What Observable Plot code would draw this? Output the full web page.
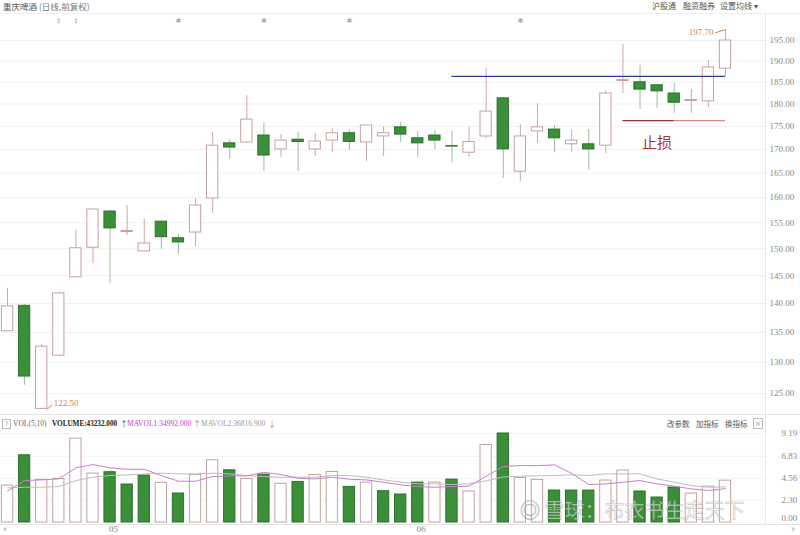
<!DOCTYPE html>
<html><head><meta charset="utf-8">
<script src="https://cdn.jsdelivr.net/npm/d3@7"></script>
<script src="https://cdn.jsdelivr.net/npm/@observablehq/plot@0.6"></script>
<style>
body{margin:0;background:#fff;}
#wrap{position:relative;width:800px;height:535px;overflow:hidden;font-family:"Noto Sans CJK SC",sans-serif;background:#fff;}
.abs{position:absolute;white-space:nowrap;line-height:10px;}
.hl{position:absolute;height:1px;background:#e4e4e4;}
.vl{position:absolute;width:1px;background:#e8e8e8;}
.num{font-family:"Liberation Serif",serif;}
</style></head>
<body><div id="wrap">
<div class="hl" style="left:0;top:13px;width:800px;background:#efefef"></div>
<div class="hl" style="left:0;top:414px;width:800px"></div>
<div class="hl" style="left:0;top:524px;width:800px"></div>
<div class="vl" style="left:765px;top:13px;height:511px"></div>
<div id="price" class="abs" style="left:0;top:13px"></div>
<div id="vol" class="abs" style="left:0;top:428px"></div>
<div class="abs" style="left:3px;top:1px;font-size:8.5px;color:#555">重庆啤酒 <span style="color:#777">(日线,前复权)</span></div>
<div class="abs" style="left:652px;top:1px;font-size:8px;color:#555">沪股通</div>
<div class="abs" style="left:683px;top:1px;font-size:8px;color:#555">融资融券</div>
<div class="abs" style="left:720px;top:1px;font-size:8px;color:#555">设置均线 ▾</div>
<div class="abs" style="left:2px;top:419px;width:7px;height:8px;border:1px solid #bbb;font-size:6px;line-height:8px;text-align:center;color:#888">?</div>
<div class="abs num" style="left:13px;top:419px;font-size:7.5px;color:#666">VOL(5,10)</div>
<div class="abs num" style="left:52px;top:419px;font-size:7.2px;color:#222;font-weight:bold">VOLUME:43232.000</div>
<div class="abs" style="left:120px;top:419px;font-size:8px;color:#555">↑</div>
<div class="abs num" style="left:127px;top:419px;font-size:7.5px;color:#c040c8">MAVOL1:34992.000</div>
<div class="abs" style="left:193px;top:419px;font-size:8px;color:#c070c8">↑</div>
<div class="abs num" style="left:201px;top:419px;font-size:7.5px;color:#999">MAVOL2:36816.900</div>
<div class="abs" style="left:268px;top:419px;font-size:8px;color:#999">↓</div>
<div class="abs" style="left:667px;top:419px;font-size:7.5px;color:#555">改参数</div>
<div class="abs" style="left:696px;top:419px;font-size:7.5px;color:#555">加指标</div>
<div class="abs" style="left:725px;top:419px;font-size:7.5px;color:#555">换指标</div>
<div class="abs" style="left:753px;top:418px;width:8px;height:9px;border:1px solid #bbb;font-size:7px;line-height:9px;text-align:center;color:#777">×</div>
<div class="abs" style="left:3px;top:524px;font-size:9px;color:#aaa">«</div>
<div class="abs" style="left:791px;top:524px;font-size:9px;color:#aaa">»</div>
<div class="abs" style="left:520px;top:499px;font-size:20px;line-height:22px;color:rgba(255,255,255,0.55);-webkit-text-stroke:0.6px rgba(110,110,110,0.45)">◎ 雪球：布衣书生走天下</div>
</div>
<script>
// ---- data (price in CNY, volume in 10k lots) ----
const opens  = [135.2,139.6,122.6,131.1,144.7,150.2,157.2,153.2,149.5,155.2,152.0,153.1,159.8,171.3,171.5,173.0,170.0,172.1,170.0,171.9,173.5,171.5,172.8,174.8,172.4,173.0,170.7,169.3,172.8,181.3,165.3,173.9,174.3,171.1,171.1,170.8,185.3,185.0,184.3,182.4,180.7,180.6,188.2];
const highs  = [142.7,139.8,133.0,142.0,153.5,157.7,157.4,158.4,155.8,155.3,152.8,159.8,173.7,172.1,181.9,175.7,173.2,173.7,173.5,174.5,174.3,175.2,174.9,175.9,173.9,174.1,173.9,174.8,188.2,181.4,175.4,180.1,175.2,174.1,174.3,183.0,194.0,189.0,184.5,184.7,183.3,190.1,197.7];
const lows   = [135.2,126.3,122.5,131.1,144.7,147.2,143.6,152.5,149.5,149.9,148.9,150.4,156.8,167.9,171.3,165.3,168.3,165.3,168.5,169.3,169.8,167.4,168.5,171.5,168.3,170.0,167.2,168.3,172.4,163.9,163.3,171.3,169.3,169.3,165.6,169.1,182.4,178.8,179.0,177.9,177.9,179.2,186.3];
const closes = [139.5,127.7,132.6,141.8,150.1,157.6,153.9,153.4,151.0,152.2,151.2,158.4,170.8,170.4,176.5,168.7,171.9,171.6,171.7,173.5,171.6,175.2,173.5,173.2,171.3,171.9,170.6,171.6,178.3,170.0,172.8,174.8,172.4,171.9,170.0,182.4,185.5,183.3,182.9,180.3,180.9,188.5,195.0];
const volumes= [3.81,6.94,4.40,4.50,8.66,5.05,5.19,3.92,4.85,4.09,2.99,4.92,6.42,5.39,4.50,4.95,3.99,4.19,4.91,5.22,3.68,4.12,3.23,2.89,4.12,4.12,4.43,3.20,8.00,9.19,4.60,4.40,3.30,3.30,3.30,4.33,5.36,3.20,2.58,3.61,2.99,3.71,4.32];
const mavol1 = [3.23,4.33,4.40,4.50,5.64,5.98,5.64,5.50,5.50,4.85,4.26,4.26,4.74,4.81,4.81,5.19,4.95,4.57,4.50,4.67,4.47,4.40,4.16,3.89,3.71,3.64,3.71,3.75,4.77,5.78,5.88,5.87,5.95,5.07,3.92,3.99,4.16,4.33,3.99,3.74,3.47,3.30,3.50];
const mavol2 = [3.57,3.64,3.64,3.71,4.33,4.67,4.85,4.91,5.02,5.09,5.02,5.02,5.09,5.02,4.85,4.74,4.67,4.67,4.67,4.85,4.85,4.67,4.40,4.16,3.99,3.99,3.92,3.99,4.30,4.70,4.79,4.82,4.85,4.92,4.85,5.02,5.02,5.02,4.50,4.16,3.81,3.64,3.68];
const priceTicks = [125,130,135,140,145,150,155,160,165,170,175,180,185,190,195];
const volTicks = [0,2.30,4.56,6.83,9.19];
const monthLabels = ["05","06"];
const monthIndex = [6,24];
const eventIndex = [3,4,10,15,20,30];
const eventSymbol = ["‡","‡","✱","✱","✱","✱"];
const resistanceLine = {value:186.4, from:26, to:42};
const stopLines = [{value:176.3, from:36, to:39, color:"#8e3434"},{value:176.3, from:39, to:42, color:"#d48a8a"}];
const stopText = {text:"止损", index:38, value:171.3};
const lowMark = {index:2, value:122.5};
const highMark = {index:42, value:197.7};

const UP_S="#c6a0a0", UP_W="#cda8a8", DN_F="#3b8f39", DN_S="#2c702b", DN_W="#9dbd9b";
const candles = opens.map((o,i)=>({i,o,h:highs[i],l:lows[i],c:closes[i],up:closes[i]>=o}));
const vols = volumes.map((v,i)=>({i,v,up: i===0 ? closes[i]>=opens[i] : closes[i]>=closes[i-1], m1:mavol1[i], m2:mavol2[i]}));
const X = {type:"linear", domain:[0,42], range:[7,725], axis:null};
const hw = 0.33;

const price = Plot.plot({
  width:800, height:401, marginTop:0, marginLeft:0, marginRight:35, marginBottom:0,
  style:{background:"transparent", overflow:"visible", fontFamily:"Liberation Serif, serif"},
  x:X,
  y:{type:"log", domain:[125,195], range:[380,27], axis:null},
  marks:[
    Plot.ruleY(priceTicks,{y:d=>d, stroke:"#f0f0f0"}),
    Plot.text(priceTicks,{y:d=>d, text:d=>d.toFixed(2), frameAnchor:"right", dx:4, textAnchor:"start", fill:"#888", fontSize:9}),
    Plot.text(eventIndex,{x:d=>d, text:(d,i)=>eventSymbol[i], frameAnchor:"top", dy:5, fill:"#aaa", fontSize:7, fontFamily:"DejaVu Sans"}),
    Plot.ruleX(candles.filter(d=>d.up),{x:"i", y1:"l", y2:"h", stroke:UP_W}),
    Plot.ruleX(candles.filter(d=>!d.up),{x:"i", y1:"l", y2:"h", stroke:DN_W}),
    Plot.rect(candles.filter(d=>d.up),{x1:d=>d.i-hw, x2:d=>d.i+hw, y1:"o", y2:"c", fill:"white", stroke:UP_S}),
    Plot.rect(candles.filter(d=>!d.up),{x1:d=>d.i-hw, x2:d=>d.i+hw, y1:"o", y2:"c", fill:DN_F, stroke:DN_S}),
    Plot.ruleY([resistanceLine],{y:"value", x1:"from", x2:"to", stroke:"#2e3d9c", strokeWidth:1.2}),
    Plot.ruleY(stopLines,{y:"value", x1:"from", x2:"to", stroke:"color", strokeWidth:1.3}),
    Plot.text([stopText],{x:"index", y:"value", text:"text", fill:"#a33a3a", fontSize:15, fontFamily:"Noto Sans CJK SC"}),
    Plot.link([lowMark],{x1:d=>d.index+0.3, y1:"value", x2:d=>d.index+0.62, y2:d=>d.value*1.006, stroke:"#c8875a"}),
    Plot.text([lowMark],{x:"index", y:"value", text:d=>d.value.toFixed(2), dx:12, dy:-6, textAnchor:"start", fill:"#c8875a", fontSize:9}),
    Plot.link([highMark],{x1:d=>d.index-0.6, y1:d=>d.value/1.004, x2:"index", y2:"value", stroke:"#c8875a"}),
    Plot.text([highMark],{x:"index", y:"value", text:d=>d.value.toFixed(2), dx:-12, dy:3, textAnchor:"end", fill:"#c8875a", fontSize:9})
  ]
});
document.getElementById("price").appendChild(price);

const vol = Plot.plot({
  width:800, height:107, marginTop:0, marginLeft:0, marginRight:35, marginBottom:0,
  style:{background:"transparent", overflow:"visible", fontFamily:"Liberation Serif, serif"},
  x:X,
  y:{domain:[0,9.19], range:[94,5], axis:null},
  marks:[
    Plot.ruleY(volTicks.slice(1),{y:d=>d, stroke:"#f3f3f3"}),
    Plot.text(volTicks.slice(1),{y:d=>d, text:d=>d.toFixed(2), frameAnchor:"right", dx:16, textAnchor:"start", fill:"#888", fontSize:9}),
    Plot.text(volTicks.slice(0,1),{y:d=>d, text:d=>d.toFixed(2), frameAnchor:"right", dx:16, dy:-4, textAnchor:"start", fill:"#888", fontSize:9}),
    Plot.rect(vols.filter(d=>d.up),{x1:d=>d.i-hw, x2:d=>d.i+hw, y1:0, y2:"v", fill:"white", stroke:UP_S}),
    Plot.rect(vols.filter(d=>!d.up),{x1:d=>d.i-hw, x2:d=>d.i+hw, y1:0, y2:"v", fill:DN_F, stroke:DN_S}),
    Plot.line(vols,{x:"i", y:"m2", stroke:"#bdbdbd", strokeWidth:1}),
    Plot.line(vols,{x:"i", y:"m1", stroke:"#c77fcc", strokeWidth:1}),
    Plot.text(monthIndex,{x:d=>d, text:(d,i)=>monthLabels[i], frameAnchor:"bottom", dy:-4, dx:-1, textAnchor:"start", fill:"#888", fontSize:9})
  ]
});
document.getElementById("vol").appendChild(vol);
</script>
</body></html>
